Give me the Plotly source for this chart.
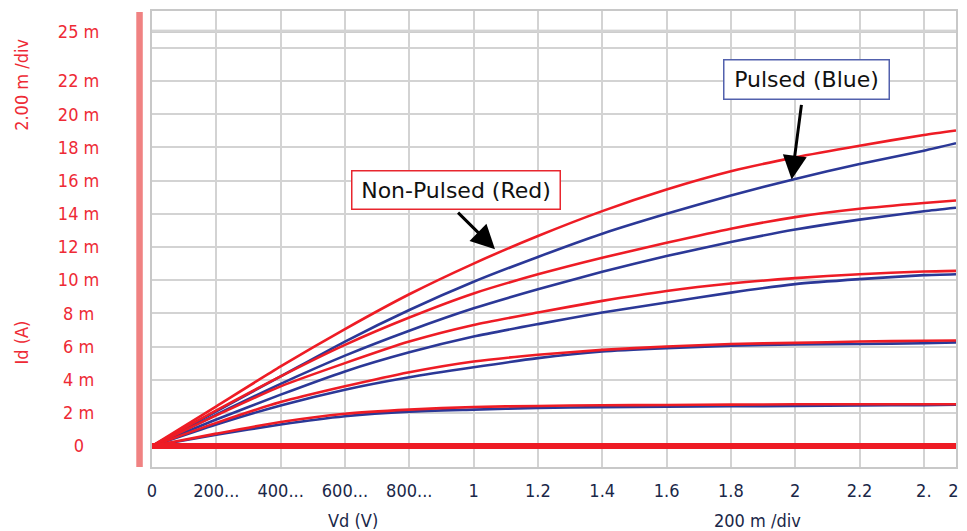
import plotly.graph_objects as go

# Drain voltage sample points (V)
vd = [0, 0.2, 0.4, 0.6, 0.8, 1.0, 1.2, 1.4, 1.6, 1.8, 2.0, 2.2, 2.4, 2.5]

# Non-pulsed (red) drain currents, mA
red_0 = [0, 0, 0, 0, 0, 0, 0, 0, 0, 0, 0, 0, 0, 0]
red_1 = [0, 0.75, 1.45, 1.95, 2.2, 2.36, 2.42, 2.46, 2.48, 2.5, 2.52, 2.52, 2.52, 2.52]
red_2 = [0, 1.4, 2.65, 3.6, 4.45, 5.1, 5.5, 5.8, 6.0, 6.15, 6.22, 6.3, 6.35, 6.36]
red_3 = [0, 1.85, 3.6, 5.0, 6.3, 7.3, 8.05, 8.75, 9.35, 9.8, 10.12, 10.36, 10.52, 10.56]
red_4 = [0, 2.15, 4.2, 6.1, 7.75, 9.2, 10.35, 11.35, 12.25, 13.1, 13.8, 14.3, 14.65, 14.8]
red_5 = [0, 2.4, 4.8, 7.05, 9.15, 11.0, 12.66, 14.16, 15.46, 16.56, 17.4, 18.1, 18.75, 19.02]

# Pulsed (blue) drain currents, mA
blue_1 = [0, 0.68, 1.3, 1.8, 2.08, 2.2, 2.3, 2.35, 2.38, 2.4, 2.42, 2.45, 2.47, 2.5]
blue_2 = [0, 1.3, 2.45, 3.4, 4.15, 4.75, 5.3, 5.7, 5.9, 6.05, 6.12, 6.15, 6.2, 6.25]
blue_3 = [0, 1.6, 3.1, 4.5, 5.65, 6.6, 7.35, 8.05, 8.65, 9.25, 9.76, 10.06, 10.3, 10.36]
blue_4 = [0, 1.9, 3.75, 5.45, 6.95, 8.3, 9.45, 10.5, 11.45, 12.3, 13.05, 13.65, 14.15, 14.36]
blue_5 = [0, 2.1, 4.2, 6.3, 8.2, 9.9, 11.4, 12.8, 14.0, 15.1, 16.1, 17.0, 17.8, 18.25]

# Axis ticks
x_tickvals = [0, 0.2, 0.4, 0.6, 0.8, 1.0, 1.2, 1.4, 1.6, 1.8, 2.0, 2.2, 2.4, 2.5]
x_ticktext = ["0", "200...", "400...", "600...", "800...", "1", "1.2", "1.4", "1.6", "1.8", "2", "2.2", "2.", "2."]
y_tickvals = [0, 2, 4, 6, 8, 10, 12, 14, 16, 18, 20, 22, 24, 25]
y_ticktext = ["0", "2 m", "4 m", "6 m", "8 m", "10 m", "12 m", "14 m", "16 m", "18 m", "20 m", "22 m", "", "25 m"]

RED = "#ee1c25"
BLUE = "#2b3897"
TXT_RED = "#ee2a35"
TXT_NAVY = "#1a2748"
FONT = "DejaVu Sans Condensed, DejaVu Sans, sans-serif"

NB = "\u00a0"
def pad(t):
    if t == "":
        return t
    if len(t) == 1:
        return t + NB * 3
    if len(t) == 3:
        return t + NB
    return t

fig = go.Figure()

for ys in [blue_1, blue_2, blue_3, blue_4, blue_5]:
    fig.add_trace(go.Scatter(x=vd, y=ys, mode="lines", line=dict(color=BLUE, width=2.6, shape="spline", smoothing=0.6),
                             hoverinfo="skip"))
for ys in [red_1, red_2, red_3, red_4, red_5]:
    fig.add_trace(go.Scatter(x=vd, y=ys, mode="lines", line=dict(color=RED, width=2.6, shape="spline", smoothing=0.6),
                             hoverinfo="skip"))
fig.add_trace(go.Scatter(x=vd, y=red_0, mode="lines", line=dict(color=RED, width=6), hoverinfo="skip"))

fig.update_layout(
    width=959, height=523,
    margin=dict(l=144, r=11, t=1, b=64),
    paper_bgcolor="white", plot_bgcolor="white",
    showlegend=False,
    font=dict(family=FONT, size=18),
    xaxis=dict(range=[0, 2.5], tickvals=x_tickvals, ticktext=x_ticktext,
               showgrid=True, gridcolor="#d3d3d3", gridwidth=2,
               zeroline=False, showline=True, mirror=True, linecolor="#c8c8c8", linewidth=2,
               tickfont=dict(family=FONT, size=18, color=TXT_NAVY), ticks="", ticklabelstandoff=6),
    yaxis=dict(range=[-1.26, 26.22], tickvals=y_tickvals, ticktext=[pad(t) for t in y_ticktext],
               showgrid=True, gridcolor="#d3d3d3", gridwidth=2,
               zeroline=False, showline=True, mirror=True, linecolor="#c8c8c8", linewidth=2,
               tickfont=dict(family=FONT, size=18, color=TXT_RED), ticks="", ticklabelstandoff=47),
)

# darker reference gridline at 25 m
fig.add_shape(type="line", xref="paper", x0=0, x1=1, yref="y", y0=25, y1=25,
              line=dict(color="#bdbdbd", width=3), layer="below")
# pink y-axis bar
fig.add_shape(type="line", xref="paper", x0=-0.0155, x1=-0.0155, yref="paper", y0=0, y1=0.998,
              line=dict(color="#f08282", width=6.5))

# axis titles
fig.add_annotation(text="Vd (V)", xref="paper", yref="paper", x=0.2494, y=-0.118, showarrow=False,
                   font=dict(family=FONT, size=18, color=TXT_NAVY), xanchor="center", yanchor="middle")
fig.add_annotation(text="200 m /div", xref="paper", yref="paper", x=0.7531, y=-0.118, showarrow=False,
                   font=dict(family=FONT, size=18, color=TXT_NAVY), xanchor="center", yanchor="middle")
fig.add_annotation(text="Id (A)", xref="paper", yref="paper", x=-0.1617, y=0.273, showarrow=False, textangle=-90,
                   font=dict(family=FONT, size=18, color=TXT_RED), xanchor="center", yanchor="middle")
fig.add_annotation(text="2.00 m /div", xref="paper", yref="paper", x=-0.1617, y=0.838, showarrow=False, textangle=-90,
                   font=dict(family=FONT, size=18, color=TXT_RED), xanchor="center", yanchor="middle")

# callout boxes
fig.add_annotation(text="Non-Pulsed (Red)", x=0.944, y=15.43, xref="x", yref="y", showarrow=False,
                   font=dict(family="DejaVu Sans, sans-serif", size=22, color="#111111"),
                   bgcolor="white", bordercolor="#e8262e", borderwidth=1.5, borderpad=1, width=205, height=35)
fig.add_annotation(text="Pulsed (Blue)", x=2.034, y=22.12, xref="x", yref="y", showarrow=False,
                   font=dict(family="DejaVu Sans, sans-serif", size=22, color="#111111"),
                   bgcolor="white", bordercolor="#5261ad", borderwidth=1.5, borderpad=1, width=162, height=36)

# arrows
fig.add_annotation(text="", x=1.0666, y=11.86, ax=0.947, ay=14.16, xref="x", yref="y", axref="x", ayref="y",
                   showarrow=True, arrowhead=2, arrowsize=1.6, arrowwidth=3, arrowcolor="black")
fig.add_annotation(text="", x=1.989, y=16.06, ax=2.020, ay=20.65, xref="x", yref="y", axref="x", ayref="y",
                   showarrow=True, arrowhead=2, arrowsize=1.6, arrowwidth=3, arrowcolor="black")

fig.write_html("out.html")
